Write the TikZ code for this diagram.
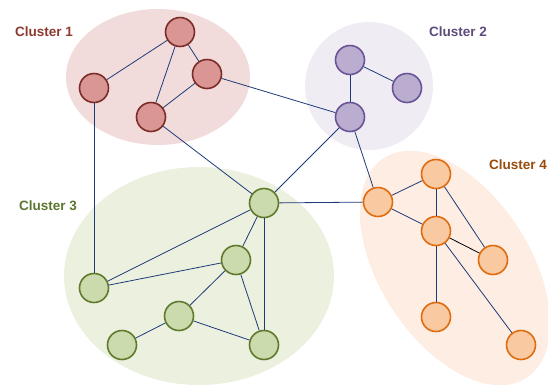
\documentclass[tikz,border=0pt]{standalone}
\usepackage{fontspec}
\setmainfont{Liberation Sans}
\definecolor{bgA}{HTML}{F2DCDB}
\definecolor{ndA}{HTML}{D99694}
\definecolor{lnA}{HTML}{7B2C26}
\definecolor{txA}{HTML}{8C3A30}
\definecolor{bgB}{HTML}{EFEDF3}
\definecolor{ndB}{HTML}{BBADD0}
\definecolor{lnB}{HTML}{6A5396}
\definecolor{txB}{HTML}{5F4A7C}
\definecolor{bgC}{HTML}{EBF0DF}
\definecolor{ndC}{HTML}{CCDBAE}
\definecolor{lnC}{HTML}{5F7A2C}
\definecolor{txC}{HTML}{5C7530}
\definecolor{bgD}{HTML}{FDEDE2}
\definecolor{ndD}{HTML}{F9C9A2}
\definecolor{lnD}{HTML}{E06C10}
\definecolor{txD}{HTML}{9A4A0A}
\definecolor{edge}{HTML}{1F3A78}
\tikzset{
  vtx/.style={circle, minimum size=29pt, inner sep=0pt, line width=1.6pt},
  vA/.style={vtx, draw=lnA, fill=ndA},
  vB/.style={vtx, draw=lnB, fill=ndB},
  vC/.style={vtx, draw=lnC, fill=ndC},
  vD/.style={vtx, draw=lnD, fill=ndD},
  lbl/.style={font=\bfseries\fontsize{13.5}{16}\selectfont},
  link/.style={draw=edge, line width=0.8pt}
}
\begin{document}
\begin{tikzpicture}[x=1pt,y=-1pt]
\useasboundingbox (0,0) rectangle (548,384);
% cluster backgrounds
\fill[bgA] (158,77) ellipse [x radius=92, y radius=68];
\fill[bgB] (369,86) ellipse [x radius=64, y radius=64];
\fill[bgC] (199,276) ellipse [x radius=135, y radius=109];
\fill[bgD, rotate around={-57:(455,268)}] (455,268) ellipse [x radius=131, y radius=75];
% labels
\node[lbl, text=txA] (l1) at (44,32) {Cluster 1};
\node[lbl, text=txB] (l2) at (458,32) {Cluster 2};
\node[lbl, text=txC] (l3) at (48,206) {Cluster 3};
\node[lbl, text=txD] (l4) at (518,165) {Cluster 4};
% cluster 1
\node[vA] (a1) at (180,32) {};
\node[vA] (a2) at (207,74) {};
\node[vA] (a3) at (94,88) {};
\node[vA] (a4) at (151,117) {};
% cluster 2
\node[vB] (b1) at (350,60) {};
\node[vB] (b2) at (407,88) {};
\node[vB] (b3) at (350,117) {};
% cluster 3
\node[vC] (c1) at (264,203) {};
\node[vC] (c2) at (236,260) {};
\node[vC] (c3) at (94,288) {};
\node[vC] (c4) at (179,316) {};
\node[vC] (c5) at (122,345) {};
\node[vC] (c6) at (264,345) {};
% cluster 4
\node[vD] (d1) at (378,202) {};
\node[vD] (d2) at (436,174) {};
\node[vD] (d3) at (436,231) {};
\node[vD] (d4) at (493,260) {};
\node[vD] (d5) at (436,317) {};
\node[vD] (d6) at (521,345) {};
% edges
\path[link] (a1) -- (a2);
\path[link] (a1) -- (a3);
\path[link] (a1) -- (a4);
\path[link] (a2) -- (a4);
\path[link] (a3) -- (c3);
\path[link] (a4) -- (c1);
\path[link] (a2) -- (b3);
\path[link] (b1) -- (b2);
\path[link] (b1) -- (b3);
\path[link] (b3) -- (c1);
\path[link] (b3) -- (d1);
\path[link] (c1) -- (c3);
\path[link] (c1) -- (c2);
\path[link] (c1) -- (c6);
\path[link] (c1) -- (d1);
\path[link] (c2) -- (c3);
\path[link] (c2) -- (c4);
\path[link] (c2) -- (c6);
\path[link] (c4) -- (c5);
\path[link] (c4) -- (c6);
\path[link] (d1) -- (d2);
\path[link] (d1) -- (d3);
\path[link] (d2) -- (d3);
\path[link] (d2) -- (d4);
\path[link, draw=black] (d3) -- (d4);
\path[link] (d3) -- (d5);
\path[link] (d3) -- (d6);
\end{tikzpicture}
\end{document}
